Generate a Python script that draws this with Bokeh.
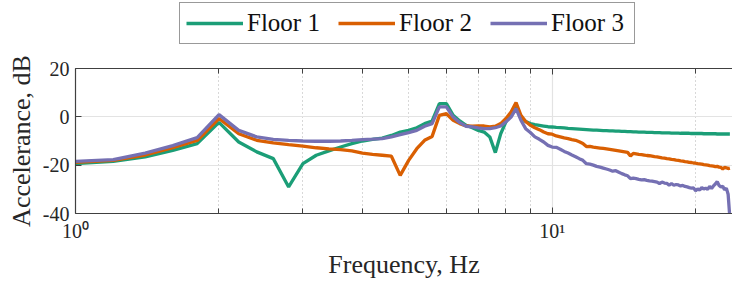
import numpy as np
from bokeh.plotting import figure
from bokeh.layouts import column
from bokeh.models import (Range1d, FixedTicker, LogAxis, Legend, LegendItem,
                          BasicTickFormatter)
from bokeh.embed import file_html
from bokeh.resources import INLINE

# ---- data -------------------------------------------------------------
freq_hz = np.round(np.arange(1.0, 23.61, 0.2), 1)

floor1_db = [
    -19.4, -18.4, -16.6, -13.9, -11.1, -2.3, -10.4, -14.5, -17.3, -29.0,
    -19.4, -15.9, -14.1, -12.5, -11.1, -10.0, -9.3, -8.8, -7.7, -6.3,
    -5.6, -4.5, -2.8, -1.7, 5.5, 5.5, 0.6, -1.7, -3.5, -4.5,
    -5.6, -6.3, -8.3, -14.8, -7.0, -2.1, 1.3, 4.1, -0.1, -1.9,
    -2.8, -3.2, -3.5, -3.8, -4.1,
    -4.2, -4.4, -4.5, -4.6, -4.8, -4.9, -5.0, -5.1, -5.2, -5.3,
    -5.4, -5.5, -5.5, -5.6, -5.7, -5.7, -5.8, -5.8, -5.9, -5.9,
    -6.0, -6.0, -6.1, -6.1, -6.2, -6.2, -6.3, -6.3, -6.3, -6.4,
    -6.4, -6.4, -6.5, -6.5, -6.5, -6.6, -6.6, -6.6, -6.6, -6.7,
    -6.7, -6.7, -6.7, -6.8, -6.8, -6.8, -6.8, -6.8, -6.9, -6.9,
    -6.9, -6.9, -6.9, -6.9, -7.0, -7.0, -7.0, -7.0, -7.0, -7.0,
    -7.0, -7.1, -7.1, -7.1, -7.1, -7.1, -7.1, -7.1, -7.1,
]

floor2_db = [
    -18.8, -18.0, -15.8, -12.8, -9.8, -0.7, -7.0, -9.7, -10.8, -11.5,
    -12.1, -12.8, -13.3, -13.6, -14.1, -15.0, -15.5, -15.9, -16.3, -24.2,
    -18.0, -13.2, -9.7, -8.1, 0.6, 1.3, -1.4, -2.8, -3.8, -3.9,
    -3.8, -3.8, -4.2, -3.9, -2.8, -0.7, 2.0, 5.9, 0.6, -1.9,
    -3.5, -4.5, -5.3, -6.3, -7.0,
    -7.2, -7.9, -8.3, -8.7, -9.0, -9.4, -9.7, -10.3, -11.0, -12.3,
    -12.2, -12.5, -12.7, -12.9, -13.1, -13.3, -13.5, -13.7, -13.9, -14.1,
    -14.3, -14.5, -14.7, -16.2, -15.1, -15.3, -15.5, -15.6, -15.8, -16.0,
    -16.1, -16.3, -16.5, -16.6, -16.8, -17.0, -17.1, -17.3, -17.4, -17.6,
    -17.7, -17.9, -18.0, -18.2, -18.3, -18.5, -18.6, -18.8, -18.9, -19.1,
    -19.2, -19.4, -19.5, -19.6, -19.8, -19.9, -20.0, -20.2, -20.3, -20.4,
    -20.6, -20.5, -20.8, -20.9, -21.6, -20.9, -21.1, -21.4, -21.2,
]

floor3_db = [
    -18.4, -17.7, -15.0, -11.9, -8.6, 0.9, -5.6, -8.3, -9.3, -9.7,
    -10.0, -10.1, -10.1, -10.0, -9.7, -9.4, -9.2, -9.0, -8.3, -7.4,
    -6.5, -5.6, -3.9, -2.8, 4.1, 4.1, -0.1, -2.4, -3.9, -4.2,
    -4.6, -4.9, -4.9, -4.5, -3.8, -2.1, -0.1, 3.4, -1.4, -4.9,
    -6.5, -8.3, -9.3, -10.4, -11.8,
    -12.5, -12.6, -13.4, -14.3, -15.0, -15.8, -16.5, -17.3, -18.0, -19.4,
    -19.6, -20.0, -20.5, -20.8, -21.2, -21.6, -22.0, -22.5, -22.3, -22.9,
    -23.5, -24.0, -24.4, -25.6, -25.4, -25.6, -25.9, -26.1, -26.0, -26.3,
    -26.5, -26.6, -26.8, -27.0, -27.6, -27.0, -27.4, -27.5, -28.3, -27.6,
    -28.3, -28.0, -28.2, -28.6, -28.4, -28.8, -29.0, -29.3, -29.5, -29.4,
    -30.6, -29.8, -30.3, -29.2, -29.9, -29.5, -30.0, -28.8, -29.6, -28.6,
    -27.8, -26.8, -28.4, -29.0, -28.7, -30.2, -29.5, -32.0, -42.0,
]

series_names = ["Floor 1", "Floor 2", "Floor 3"]
series_colors = ["#1b9e77", "#d95f02", "#7570b3"]
series_values = [floor1_db, floor2_db, floor3_db]
x_major = [1, 10]
x_minor = [2, 3, 4, 5, 6, 7, 8, 9, 20]
x_tick_labels = {1: "10\u2070", 10: "10\u00b9"}
y_ticks = [-40, -20, 0, 20]
y_tick_labels = {-40: "-40", -20: "-20", 0: "0", 20: "20"}

FONT = "Liberation Serif"
TXT = "#262626"
AX = "#404040"
LW = 3.3

# ---- legend strip (own figure so that it is not clipped) --------------
# its y range lies far away from the data, so only the legend shows
pl = figure(width=732, height=50, x_range=Range1d(0, 1), y_range=Range1d(500, 501),
            output_backend="svg", toolbar_location=None,
            min_border_left=0, min_border_right=0, min_border_top=0,
            min_border_bottom=0, x_axis_location=None, y_axis_location=None,
            background_fill_color="white", border_fill_color="white")
pl.outline_line_color = None
pl.xgrid.visible = False
pl.ygrid.visible = False
leg_r = [pl.line(freq_hz, vals, line_color=c, line_width=LW)
         for vals, c in zip(series_values, series_colors)]
legend = Legend(
    items=[LegendItem(label=n, renderers=[r]) for n, r in zip(series_names, leg_r)],
    orientation="horizontal", location=(104, 6),
    label_text_font=FONT, label_text_font_size="25px", label_text_color="#111111",
    glyph_width=57, glyph_height=24, label_height=24, label_width=77,
    label_standoff=4, spacing=14, padding=6, margin=0,
    border_line_color="#333333", border_line_width=1,
    background_fill_color="white", background_fill_alpha=1.0,
)
pl.add_layout(legend, "center")

# ---- main figure ------------------------------------------------------
p = figure(width=732, height=232, x_axis_type="log",
           x_range=Range1d(1, 23.9), y_range=Range1d(-40, 20),
           output_backend="svg", toolbar_location=None,
           min_border_left=75, min_border_right=0,
           min_border_top=18, min_border_bottom=69,
           background_fill_color="white", border_fill_color="white")
p.outline_line_color = None

for vals, c in zip(series_values, series_colors):
    p.line(freq_hz, vals, line_color=c, line_width=LW)

xa = p.xaxis[0]
xa.ticker = FixedTicker(ticks=x_major, minor_ticks=x_minor)
xa.formatter = BasicTickFormatter()
xa.major_label_overrides = x_tick_labels
xa.axis_label = "Frequency, Hz"

ya = p.yaxis[0]
ya.ticker = FixedTicker(ticks=y_ticks)
ya.major_label_overrides = y_tick_labels
ya.axis_label = "Accelerance, dB"

for ax in (xa, ya):
    ax.axis_line_color = AX
    ax.axis_line_width = 1.2
    ax.major_tick_line_color = AX
    ax.minor_tick_line_color = AX
    ax.major_tick_in = 6
    ax.major_tick_out = 0
    ax.minor_tick_in = 5
    ax.minor_tick_out = 0
    ax.major_label_text_font = FONT
    ax.major_label_text_font_size = "20px"
    ax.major_label_text_color = TXT
    ax.axis_label_text_font = FONT
    ax.axis_label_text_font_size = "26px"
    ax.axis_label_text_font_style = "normal"
    ax.axis_label_text_color = TXT
ya.minor_tick_in = 0
xa.major_label_standoff = 6
xa.axis_label_standoff = 5
ya.major_label_standoff = 6
ya.axis_label_standoff = 4

top = LogAxis(ticker=FixedTicker(ticks=x_major, minor_ticks=x_minor),
              formatter=BasicTickFormatter(),
              major_label_text_color=None, major_label_text_font_size="8px",
              axis_line_color=AX, axis_line_width=1.2,
              major_tick_in=6, major_tick_out=0, minor_tick_in=5, minor_tick_out=0,
              major_tick_line_color=AX, minor_tick_line_color=AX,
              major_label_standoff=0)
p.add_layout(top, "above")

p.xgrid.grid_line_color = "#e3e3e3"
p.xgrid.grid_line_width = 1.2
p.xgrid.minor_grid_line_color = "#b0b0b0"
p.xgrid.minor_grid_line_dash = "1 3"
p.xgrid.minor_grid_line_width = 1
p.ygrid.grid_line_color = "#e3e3e3"
p.ygrid.grid_line_width = 1.2

layout = column(pl, p, spacing=0)
open("out.html", "w").write(file_html(layout, INLINE))
